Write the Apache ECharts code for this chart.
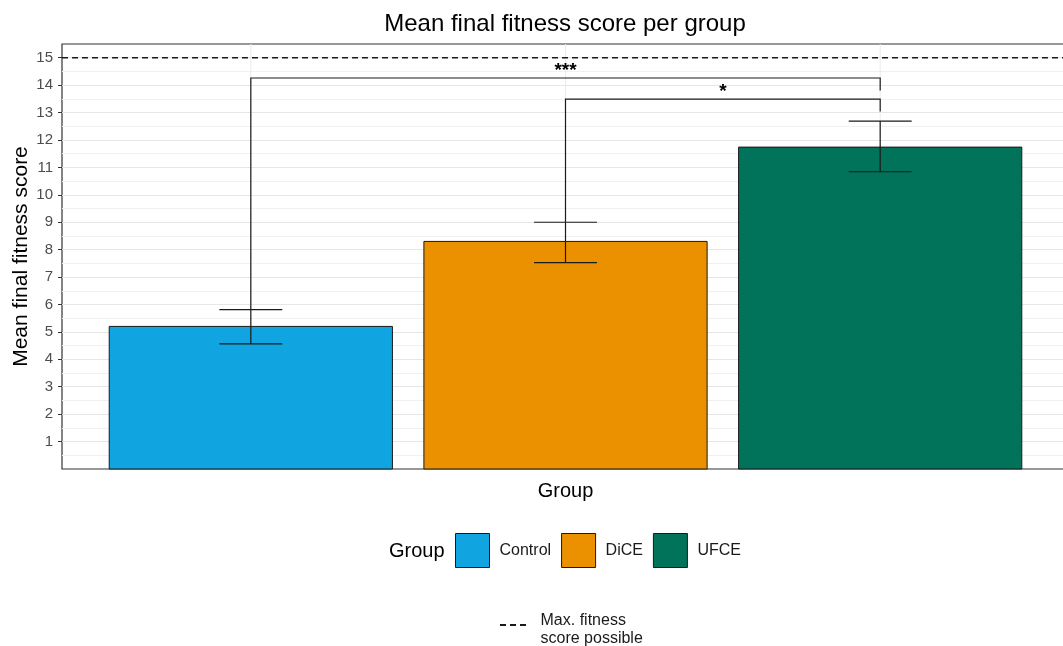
<!DOCTYPE html>
<html>
<head>
<meta charset="utf-8">
<script src="https://cdn.jsdelivr.net/npm/echarts@6/dist/echarts.min.js"></script>
<style>
  html, body { margin: 0; padding: 0; background: #fff; }
  #chart { width: 1063px; height: 646px; }
</style>
</head>
<body>
<div id="chart"></div>
<script>
// Groups and their positions on the x scale
const groups = ['Control', 'DiCE', 'UFCE'];
const groupPos = [1, 2, 3];
const groupColors = ['#10A5E1', '#EB9100', '#00735A'];

// Mean final fitness score and error bar limits per group
const meanScore = [5.2, 8.3, 11.74];
const errLow = [4.56, 7.53, 10.84];
const errHigh = [5.81, 9.0, 12.69];

// Y axis tick values
const yTicks = [1, 2, 3, 4, 5, 6, 7, 8, 9, 10, 11, 12, 13, 14, 15];

// Maximum possible fitness score (dashed reference line)
const maxScore = 15;
const maxLabel = 'Max. fitness\nscore possible';

// Significance brackets between groups
const bracketFrom = [1, 2];
const bracketTo = [3, 3];
const bracketY = [14.26, 13.49];
const bracketLeftEnd = [5.81, 9.0];
const bracketRightEnd = [13.8, 13.04];
const bracketLabel = ['***', '*'];

const FONT = '"Liberation Sans", Arial, sans-serif';
const BAR_WIDTH = 0.9;
const CAP_WIDTH = 0.2;

const chart = echarts.init(document.getElementById('chart'));

const barSeries = groups.map((g, i) => ({
  name: g,
  type: 'custom',
  z: 3,
  itemStyle: { color: groupColors[i], borderColor: '#1a1a1a', borderWidth: 1 },
  data: [[groupPos[i], meanScore[i]]],
  renderItem: (params, api) => {
    const x = api.value(0), y = api.value(1);
    const topLeft = api.coord([x - BAR_WIDTH / 2, y]);
    const size = api.size([BAR_WIDTH, y]);
    return {
      type: 'rect',
      shape: { x: topLeft[0], y: topLeft[1], width: size[0], height: size[1] },
      style: { fill: groupColors[i], stroke: '#1a1a1a', lineWidth: 1 }
    };
  }
}));

const errorSeries = {
  name: 'errors',
  type: 'custom',
  z: 4,
  silent: true,
  data: groupPos.map((p, i) => [p, errLow[i], errHigh[i]]),
  renderItem: (params, api) => {
    const x = api.value(0), lo = api.value(1), hi = api.value(2);
    const pLo = api.coord([x, lo]);
    const pHi = api.coord([x, hi]);
    const half = api.size([CAP_WIDTH / 2, 0])[0];
    const style = { stroke: '#1a1a1a', lineWidth: 1.2 };
    return {
      type: 'group',
      children: [
        { type: 'line', shape: { x1: pLo[0], y1: pLo[1], x2: pHi[0], y2: pHi[1] }, style },
        { type: 'line', shape: { x1: pLo[0] - half, y1: pLo[1], x2: pLo[0] + half, y2: pLo[1] }, style },
        { type: 'line', shape: { x1: pHi[0] - half, y1: pHi[1], x2: pHi[0] + half, y2: pHi[1] }, style }
      ]
    };
  }
};

const bracketSeries = {
  name: 'brackets',
  type: 'custom',
  z: 5,
  silent: true,
  data: bracketFrom.map((f, i) => [f, bracketTo[i], bracketY[i], bracketLeftEnd[i], bracketRightEnd[i], i]),
  renderItem: (params, api) => {
    const x1 = api.value(0), x2 = api.value(1), y = api.value(2);
    const yl = api.value(3), yr = api.value(4), idx = api.value(5);
    const a = api.coord([x1, y]);
    const b = api.coord([x2, y]);
    const aEnd = api.coord([x1, yl]);
    const bEnd = api.coord([x2, yr]);
    const mid = api.coord([(x1 + x2) / 2, y]);
    const style = { stroke: '#1a1a1a', lineWidth: 1.2 };
    return {
      type: 'group',
      children: [
        { type: 'polyline', shape: { points: [aEnd, a, b, bEnd] }, style: Object.assign({ fill: null }, style) },
        {
          type: 'text',
          x: mid[0], y: mid[1] - 17,
          style: {
            text: bracketLabel[idx], fill: '#000', font: 'bold 19px ' + FONT,
            align: 'center', verticalAlign: 'top'
          }
        }
      ]
    };
  }
};

const xGridSeries = {
  name: 'xgrid',
  type: 'custom',
  z: 1,
  silent: true,
  data: groupPos.map(p => [p]),
  renderItem: (params, api) => {
    const x = api.value(0);
    const top = api.coord([x, 15.5]);
    const bottom = api.coord([x, 0]);
    return {
      type: 'line',
      shape: { x1: top[0], y1: top[1], x2: bottom[0], y2: bottom[1] },
      style: { stroke: '#ebebeb', lineWidth: 1 }
    };
  }
};

const maxSeries = {
  name: maxLabel,
  type: 'line',
  z: 6,
  silent: true,
  symbol: 'none',
  lineStyle: { color: '#1a1a1a', width: 1.5, type: [6, 4] },
  itemStyle: { color: '#1a1a1a' },
  data: [[0.4, maxScore], [3.6, maxScore]]
};

chart.setOption({
  animation: false,
  backgroundColor: '#ffffff',
  title: {
    text: 'Mean final fitness score per group',
    left: 560,
    top: 7,
    textAlign: 'center',
    textStyle: { fontFamily: FONT, fontSize: 24, fontWeight: 'normal', color: '#000' }
  },
  grid: {
    left: 62, top: 44, width: 1007, height: 425,
    outerBoundsMode: 'none',
    containLabel: false,
    show: true, borderColor: '#333333', borderWidth: 1.2, backgroundColor: 'transparent'
  },
  xAxis: {
    type: 'value',
    min: 0.4,
    max: 3.6,
    name: 'Group',
    nameLocation: 'middle',
    nameGap: 12,
    nameTextStyle: { fontFamily: FONT, fontSize: 20, color: '#000', verticalAlign: 'top' },
    axisLine: { show: false },
    axisTick: { show: false },
    axisLabel: { show: false },
    splitLine: { show: false }
  },
  yAxis: {
    type: 'value',
    min: 0,
    max: 15.5,
    interval: 1,
    name: 'Mean final fitness score',
    nameLocation: 'middle',
    nameGap: 30,
    nameMoveOverlap: false,
    nameRotate: 90,
    nameTextStyle: { fontFamily: FONT, fontSize: 21, color: '#000' },
    axisLine: { show: false },
    axisTick: { show: true, length: 4, customValues: yTicks, lineStyle: { color: '#333333', width: 1 } },
    axisLabel: {
      fontFamily: FONT, fontSize: 15, color: '#4d4d4d', margin: 9,
      customValues: yTicks
    },
    splitLine: { show: true, lineStyle: { color: '#e6e6e6', width: 1 } },
    minorTick: { show: false, splitNumber: 2 },
    minorSplitLine: { show: true, lineStyle: { color: '#f1f1f1', width: 1 } }
  },
  legend: [
    {
      left: 455,
      top: 533,
      padding: 0,
      orient: 'horizontal',
      itemWidth: 34,
      itemHeight: 34,
      itemGap: 10,
      selectedMode: false,
      textStyle: { fontFamily: FONT, fontSize: 16, color: '#1a1a1a', padding: [2, 0, 0, 5] },
      data: groups.map((g, i) => ({
        name: g,
        icon: 'rect',
        itemStyle: { color: groupColors[i], borderColor: '#1a1a1a', borderWidth: 1 }
      }))
    },
    {
      left: 500,
      top: 612,
      padding: 0,
      itemWidth: 27,
      itemHeight: 12,
      selectedMode: false,
      textStyle: { fontFamily: FONT, fontSize: 16, color: '#1a1a1a', lineHeight: 18, padding: [0, 0, 0, 9] },
      data: [{
        name: maxLabel,
        // three short dashes near the top of the icon box
        icon: 'path://M0,0h6v2h-6z M10,0h6v2h-6z M20,0h6v2h-6z M26,11.95h0.05v0.05h-0.05z',
        itemStyle: { color: '#1a1a1a', borderWidth: 0 }
      }]
    }
  ],
  graphic: [
    {
      type: 'text',
      left: 389,
      top: 541,
      style: { text: 'Group', font: '20px ' + FONT, fill: '#000' }
    }
  ],
  series: [xGridSeries].concat(barSeries, [errorSeries, bracketSeries, maxSeries])
});
</script>
</body>
</html>
